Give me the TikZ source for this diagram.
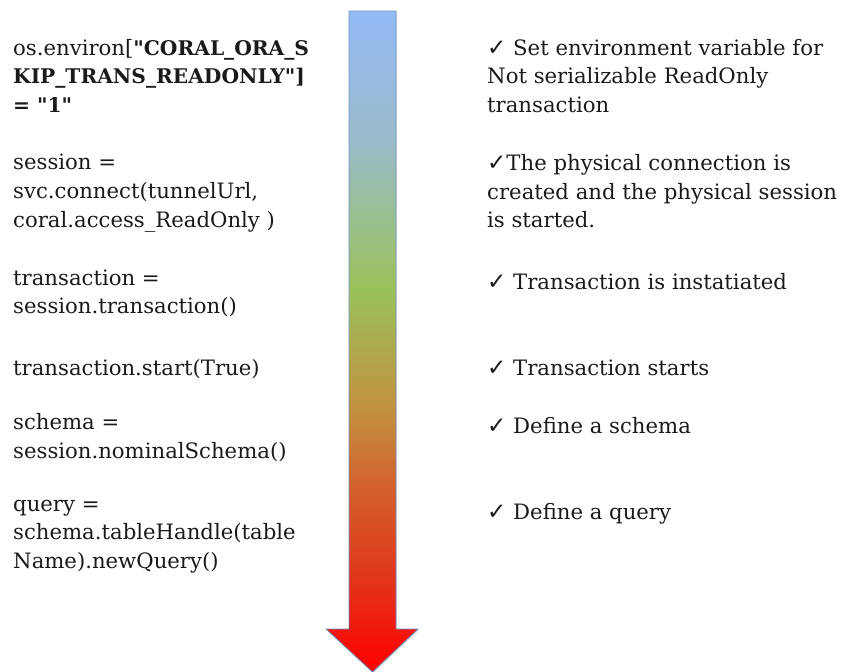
\documentclass[tikz,border=0pt]{standalone}
\usepackage{fontspec}
\setmainfont{DejaVu Serif}
\newfontfamily\tickfont{DejaVu Sans}
\usetikzlibrary{shadows}

\definecolor{flowblue}{HTML}{95BBF7}
\definecolor{flowteal}{HTML}{99BBC8}
\definecolor{flowgreen}{HTML}{99C25A}
\definecolor{floworange}{HTML}{C2913F}
\definecolor{flowrust}{HTML}{D3612C}
\definecolor{flowred}{HTML}{E0381D}
\definecolor{arrowedge}{HTML}{6F8FC4}
\definecolor{inktext}{HTML}{1A1A1A}

\pgfdeclareverticalshading{flowshade}{100bp}{color(0bp)=(red); color(25bp)=(red);
  color(32.5bp)=(flowred); color(39bp)=(flowrust); color(45bp)=(floworange);
  color(54bp)=(flowgreen); color(65bp)=(flowteal); color(75bp)=(flowblue); color(100bp)=(flowblue)}

\newcommand{\tickmark}{{\tickfont\fontsize{23}{28.8}\selectfont ✓}}
\newcommand{\dq}{\textquotedbl}
\newcommand{\keytext}[1]{{\fontsize{20.2}{28.8}\selectfont\bfseries #1}}

\begin{document}
\begin{tikzpicture}[x=1pt, y=-1pt,
	codebox/.style={ anchor=north west, inner sep=0pt, align=left, text=inktext,
		font=\fontsize{21.2}{28.8}\selectfont, execute at begin node=\strut },
	notebox/.style={ codebox }
]
\useasboundingbox (0,0) rectangle (844,672);

% the big arrow
\shadedraw[shading=flowshade, draw=arrowedge, line width=0.8pt,
	drop shadow={opacity=0.2, shadow xshift=1pt, shadow yshift=-1.5pt}]
	(349,11) -- (396,11) -- (396,629) -- (418,629) -- (372.5,672)
	-- (326,629) -- (349,629) -- cycle;

% left column: the code
\node at (13,38.8) (env) [codebox] {os.environ[\keytext{\dq CORAL\_ORA\_S}\\\keytext{KIP\_TRANS\_READONLY\dq]}\\\keytext{= \dq 1\dq}};
\node at (13,154) (session) [codebox] {session =\\svc.connect(tunnelUrl,\\coral.access\_ReadOnly )};
\node at (13,269.2) (trans) [codebox] {transaction =\\session.transaction()};
\node at (13,355.6) (start) [codebox] {transaction.start(True)};
\node at (13,413.2) (schema) [codebox] {schema =\\session.nominalSchema()};
\node at (13,499.6) (query) [codebox] {query =\\schema.tableHandle(table\\Name).newQuery()};

% right column: what happens
\node at (487,38.8) (envnote) [notebox] {\tickmark{} Set environment variable for\\Not serializable ReadOnly\\transaction};
\node at (487,154) (sessionnote) [notebox] {\tickmark The physical connection is\\created and the physical session\\is started.};
\node at (487,269.2) (transnote) [notebox] {\tickmark{} Transaction is instatiated};
\node at (487,355.6) (startnote) [notebox] {\tickmark{} Transaction starts};
\node at (487,413.2) (schemanote) [notebox] {\tickmark{} Define a schema};
\node at (487,499.6) (querynote) [notebox] {\tickmark{} Define a query};

\end{tikzpicture}
\end{document}
